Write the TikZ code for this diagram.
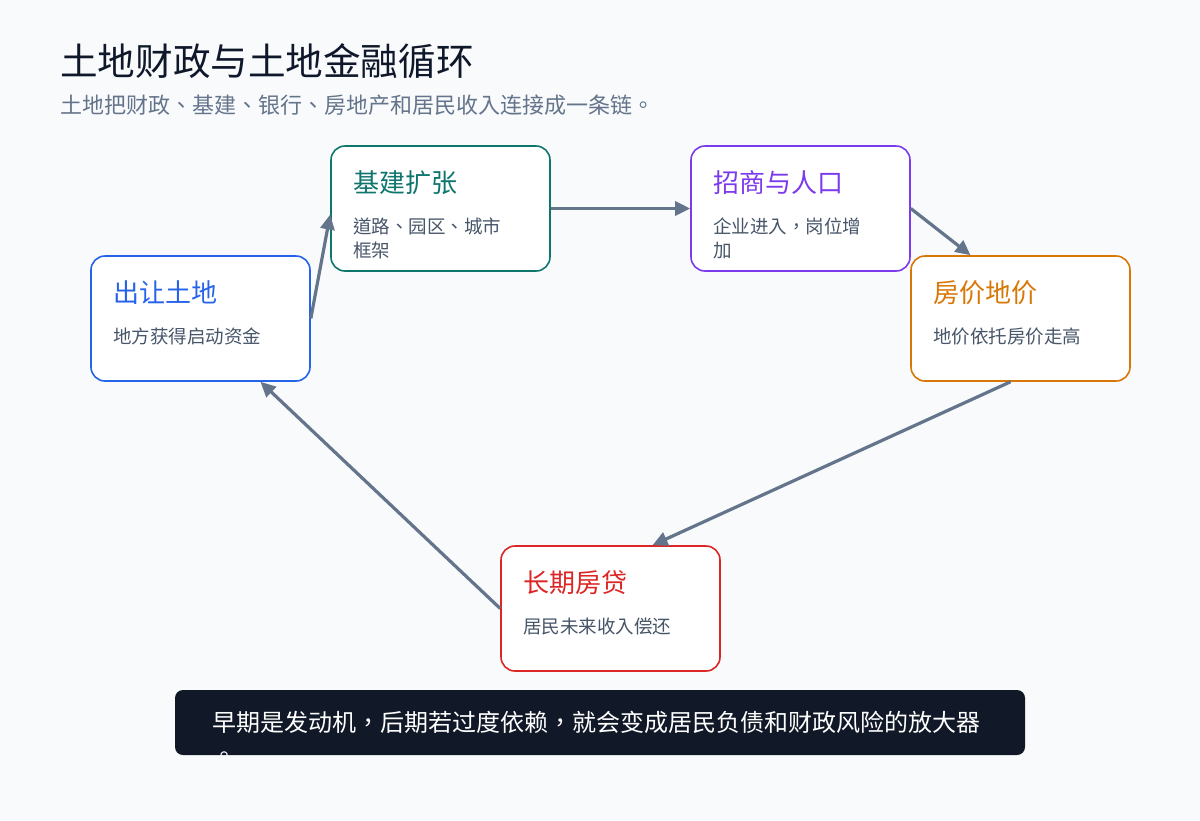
\documentclass[tikz,border=0pt]{standalone}
\usepackage{fontspec}
\usepackage{xcolor}
\usepackage{tikz}
\usetikzlibrary{arrows.meta}
\setmainfont{Noto Sans CJK TC}

\definecolor{bg}{HTML}{F8FAFC}
\definecolor{ink}{HTML}{0F172A}
\definecolor{slate}{HTML}{64748B}
\definecolor{body}{HTML}{475569}
\definecolor{landc}{HTML}{2563EB}
\definecolor{infrac}{HTML}{0F766E}
\definecolor{investc}{HTML}{7C3AED}
\definecolor{pricec}{HTML}{D97706}
\definecolor{loanc}{HTML}{DC2626}
\definecolor{notec}{HTML}{111827}

\begin{document}
\begin{tikzpicture}[x=1pt, y=-1pt,
  stage/.style={draw, line width=1.6pt, rounded corners=14pt, fill=white, minimum width=219pt, minimum height=125pt, inner sep=0pt},
  headtext/.style={anchor=west, inner sep=0pt, font=\fontsize{26}{30}\selectfont},
  subtext/.style={anchor=north west, inner sep=0pt, align=left, text=body, font=\fontsize{18.5}{24}\selectfont},
  link/.style={draw=slate, line width=3.2pt, -{Triangle[length=15pt,width=14pt,fill=slate]}}]
\useasboundingbox[fill=bg] (0,0) rectangle (1200,820);

\node[anchor=west, inner sep=0pt, text=ink, font=\fontsize{37.6}{44}\selectfont] (title) at (60,61) {土地财政与土地金融循环};
\node[anchor=west, inner sep=0pt, text=slate, font=\fontsize{22}{26}\selectfont] (subtitle) at (60,105) {土地把财政、基建、银行、房地产和居民收入连接成一条链。};

\node[stage, draw=landc] (land) at (200.5,318.5) {};
\node[stage, draw=infrac] (infra) at (440.5,208.5) {};
\node[stage, draw=investc] (invest) at (800.5,208.5) {};
\node[stage, draw=pricec] (price) at (1020.5,318.5) {};
\node[stage, draw=loanc] (loan) at (610.5,608.5) {};

\node[headtext, text=landc] (landhead) at (113,293) {出让土地};
\node[subtext] (landsub) at (113,328) {地方获得启动资金};
\node[headtext, text=infrac] (infrahead) at (353,183) {基建扩张};
\node[subtext] (infrasub) at (353,218) {道路、园区、城市\\框架};
\node[headtext, text=investc] (investhead) at (713,183) {招商与人口};
\node[subtext] (investsub) at (713,218) {企业进入，岗位增\\加};
\node[headtext, text=pricec] (pricehead) at (933,293) {房价地价};
\node[subtext] (pricesub) at (933,328) {地价依托房价走高};
\node[headtext, text=loanc] (loanhead) at (523,583) {长期房贷};
\node[subtext] (loansub) at (523,618) {居民未来收入偿还};

\draw[link] (land.east) -- ([yshift=-6pt]infra.west);
\draw[link] (infra.east) -- (invest.west);
\draw[link] (invest.east) -- ([xshift=-50pt]price.north);
\draw[link] ([xshift=-10pt]price.south) -- ([xshift=42pt]loan.north);
\draw[link] (loan.west) -- ([xshift=60pt]land.south);

\node[fill=notec, rounded corners=8pt, minimum width=850pt, minimum height=65pt, inner sep=0pt] (note) at (600,722.5) {};
\begin{scope}
\clip[rounded corners=8pt] (note.south west) rectangle (note.north east);
\node[anchor=west, inner sep=0pt, text=white, font=\fontsize{24}{34}\selectfont] (notetext) at (212,722) {早期是发动机，后期若过度依赖，就会变成居民负债和财政风险的放大器};
\node[anchor=base west, inner sep=0pt, text=white, font=\fontsize{24}{34}\selectfont] (notetail) at (212,764) {。};
\end{scope}
\end{tikzpicture}
\end{document}
